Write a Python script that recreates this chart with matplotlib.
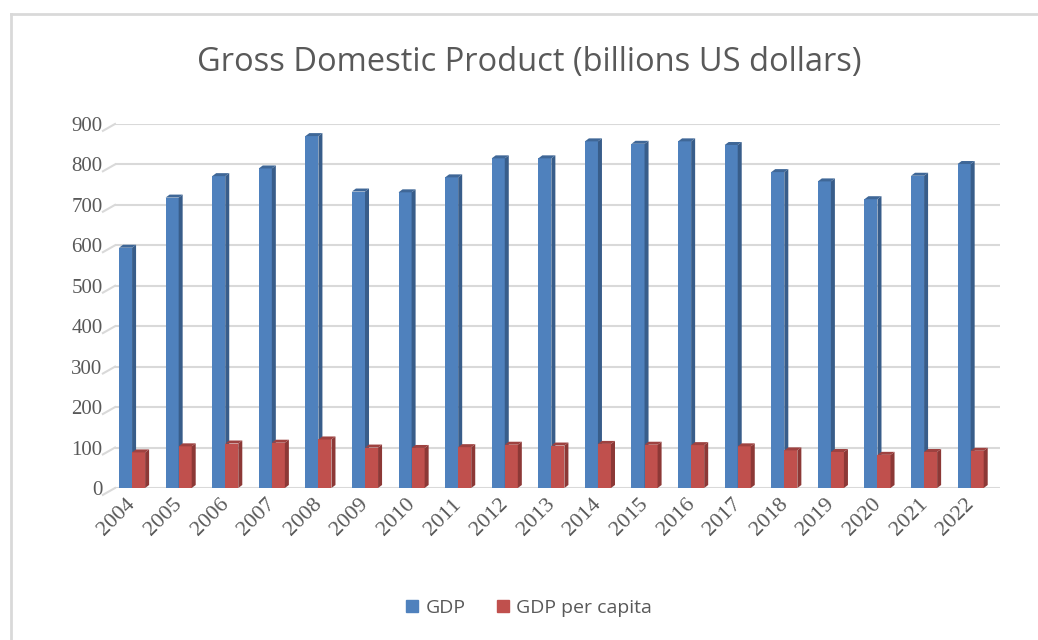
import numpy as np
import matplotlib.pyplot as plt
import matplotlib.transforms as mtransforms
from matplotlib.lines import Line2D
from matplotlib.patches import Patch

years = ['2004', '2005', '2006', '2007', '2008', '2009', '2010', '2011', '2012', '2013',
         '2014', '2015', '2016', '2017', '2018', '2019', '2020', '2021', '2022']
gdp = [594, 718, 771, 790, 870, 733, 731, 768, 815, 815,
       857, 851, 857, 848, 781, 758, 714, 772, 801]
gdp_per_capita = [88, 103, 110, 112, 120, 100, 99, 101, 107, 105,
                  109, 107, 106, 103, 93, 89, 82, 89, 92]
yticks = [0, 100, 200, 300, 400, 500, 600, 700, 800, 900]

blue, blue_side, blue_top = '#4F81BD', '#385D8A', '#3F6797'
red, red_side, red_top = '#C0504D', '#8C3836', '#9E4240'
text_col = '#595959'
grid_col = '#D9D9D9'

fig = plt.figure(figsize=(10.38, 6.40), dpi=100)
ax = fig.add_axes([0.1108, 0.2375, 0.8526, 0.5688])

x = np.arange(len(years))
w = 0.28
dx, dy = 0.086, 7.4   # depth of the fake 3d faces


def bars3d(xs, vals, face, side, top, z):
    ax.bar(xs, vals, w, align='edge', color=face, zorder=z, linewidth=0)
    for x0, v in zip(xs, vals):
        x1 = x0 + w
        ax.fill([x1, x1 + dx, x1 + dx, x1], [0, dy, v + dy, v], color=side, zorder=z, lw=0)
        ax.fill([x0, x0 + dx, x1 + dx, x1], [v, v + dy, v + dy, v], color=top, zorder=z, lw=0)


bars3d(x - w, gdp, blue, blue_side, blue_top, 2)
bars3d(x, gdp_per_capita, red, red_side, red_top, 3)

ax.set_xlim(-0.366, 18.63)
ax.set_ylim(0, 900)
ax.set_yticks(yticks)
ax.set_xticks(x)
ax.set_xticklabels(years, rotation=45, ha='right', rotation_mode='anchor',
                   family='Liberation Serif', fontsize=16, color=text_col)
ax.set_yticklabels([str(t) for t in yticks], family='Liberation Serif',
                   fontsize=15, color=text_col)
ax.tick_params(axis='both', length=0)
ax.tick_params(axis='y', pad=9)
ax.tick_params(axis='x', pad=5)
shift = mtransforms.ScaledTranslation(-6 / 100, 0, fig.dpi_scale_trans)
for lab in ax.get_xticklabels():
    lab.set_transform(lab.get_transform() + shift)
for s in ax.spines.values():
    s.set_visible(False)
for t in yticks:
    ax.axhline(t, color=grid_col, lw=1.5, zorder=1)
    ax.plot([-0.366 - 0.26, -0.366], [t - 17, t], color=grid_col, lw=1.5,
            clip_on=False, zorder=1)

fig.text(0.51, 0.903, 'Gross Domestic Product (billions US dollars)', ha='center',
         va='center', fontsize=23.5, family='Open Sans', color=text_col)

handles = [Patch(color=blue, label='GDP'), Patch(color=red, label='GDP per capita')]
fig.legend(handles=handles, loc='center', bbox_to_anchor=(0.51, 0.05), ncol=2,
           frameon=False, prop={'family': 'Open Sans', 'size': 14},
           labelcolor=text_col, handlelength=0.6, handleheight=0.6,
           handletextpad=0.4, columnspacing=1.6)

# light frame at the top and left edge
fig.add_artist(Line2D([0.0106, 1.0], [0.978, 0.978], color=grid_col, lw=2))
fig.add_artist(Line2D([0.0106, 0.0106], [0.0, 0.978], color=grid_col, lw=2))

plt.savefig('out.png', dpi=100)
